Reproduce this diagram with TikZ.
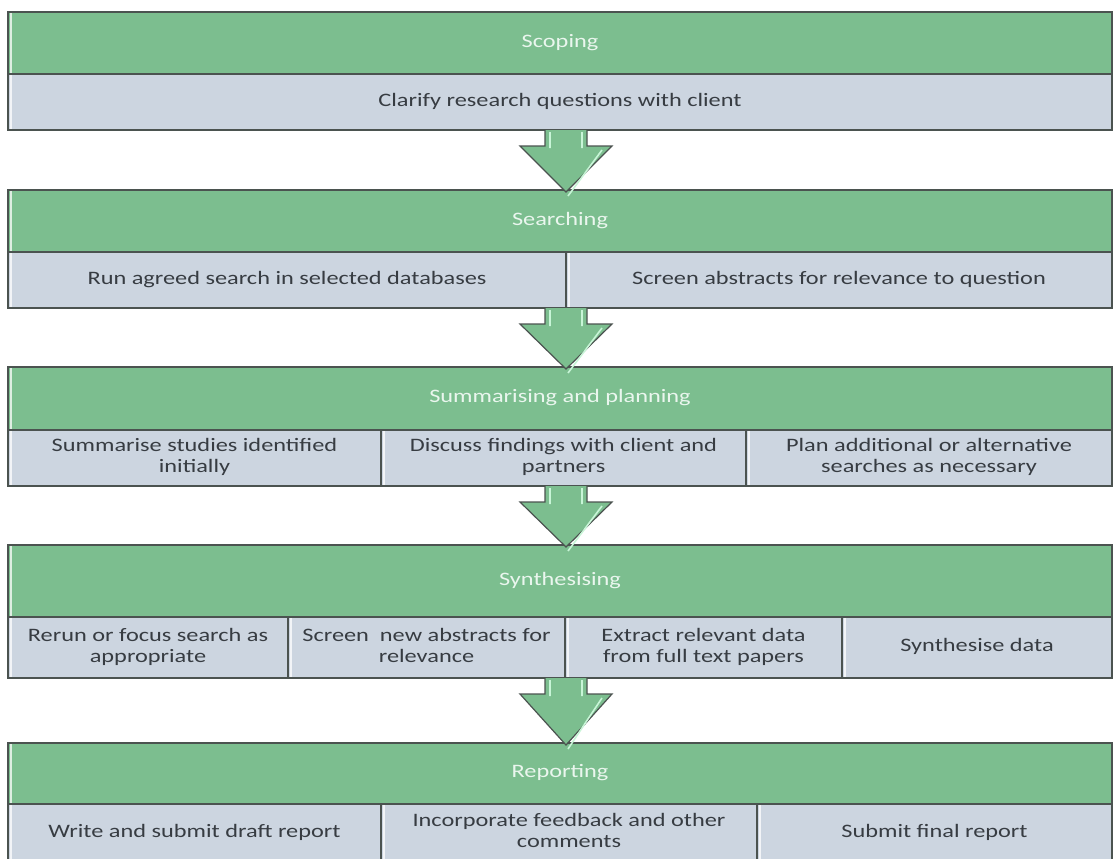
\documentclass[tikz,border=0pt]{standalone}
\usepackage{fontspec}
\setmainfont{Carlito}[FakeStretch=1.28]
\usetikzlibrary{calc}

\definecolor{headgreen}{RGB}{124,190,143}
\definecolor{rowgrey}{RGB}{204,213,224}
\definecolor{frame}{RGB}{75,83,80}
\definecolor{headtext}{RGB}{234,246,238}
\definecolor{bodytext}{RGB}{55,60,66}
\definecolor{glint}{RGB}{200,245,215}

\tikzset{
  x=1pt, y=-1pt,
  base/.style={draw=frame, line width=1.4pt, inner sep=0pt, outer sep=0pt,
    align=center, anchor=north west,
    path picture={\fill[white, opacity=.75]
      ([xshift=1.5pt]path picture bounding box.north west) rectangle
      ([xshift=4pt]path picture bounding box.south west);}},
  head/.style={base, fill=headgreen, text=headtext,
    font=\fontsize{19}{21}\selectfont},
  cell/.style={base, fill=rowgrey, text=bodytext,
    font=\fontsize{19}{21}\selectfont},
  blockarrow/.style={fill=headgreen, draw=frame, line width=1.2pt, line join=miter},
  arrowglint/.style={draw=glint, line width=1.6pt}
}

% a box from (x1,y1) to (x2,y2): style, name, x1, y1, x2, y2, text
\newcommand\panel[7]{%
  \pgfmathsetmacro\pw{#5-#3}\pgfmathsetmacro\ph{#6-#4}%
  \node[#1, minimum width=\pw pt, minimum height=\ph pt] (#2) at (#3,#4)
    {\raisebox{-2pt}{\begin{tabular}{@{}c@{}}#7\end{tabular}}};}

% block arrow from the bottom of one stage down into the next one
\newcommand\stagearrow[2]{%
  \draw[blockarrow] let \p0=(axis), \p1=(#1.south), \p2=(#2.north) in
    (\x0-21pt,\y1) -- (\x0-21pt,\y1-16pt) -- (\x0-46pt,\y1-16pt)
    -- (\x0,\y2-2pt) -- (\x0+46pt,\y1-16pt) -- (\x0+21pt,\y1-16pt)
    -- (\x0+21pt,\y1);
  \path[arrowglint] let \p0=(axis), \p1=(#1.south), \p2=(#2.north) in
    (\x0-16pt,\y1-2pt) -- (\x0-16pt,\y1-18pt)
    (\x0+16pt,\y1-2pt) -- (\x0+16pt,\y1-18pt)
    (\x0+36pt,\y1-20pt) -- (\x0+2pt,\y2-6pt);
}

\begin{document}
\begin{tikzpicture}
\useasboundingbox (0,0) rectangle (1116,859);
\clip (0,0) rectangle (1116,859);
\coordinate (axis) at (566,0);

% Scoping
\panel{head}{scoping}{8}{12}{1112}{74}{Scoping}
\panel{cell}{scope1}{8}{74}{1112}{130}{Clarify research questions with client}

% Searching
\panel{head}{searching}{8}{190}{1112}{252}{Searching}
\panel{cell}{search1}{8}{252}{566}{308}{Run agreed search in selected databases}
\panel{cell}{search2}{566}{252}{1112}{308}{Screen abstracts for relevance to question}

% Summarising and planning
\panel{head}{summarising}{8}{367}{1112}{430}{Summarising and planning}
\panel{cell}{summ1}{8}{430}{381}{486}{Summarise studies identified\\initially}
\panel{cell}{summ2}{381}{430}{746}{486}{Discuss findings with client and\\partners}
\panel{cell}{summ3}{746}{430}{1112}{486}{Plan additional or alternative\\searches as necessary}

% Synthesising
\panel{head}{synthesising}{8}{545}{1112}{617}{Synthesising}
\panel{cell}{syn1}{8}{617}{288}{678}{Rerun or focus search as\\appropriate}
\panel{cell}{syn2}{288}{617}{565}{678}{Screen~~new abstracts for\\relevance}
\panel{cell}{syn3}{565}{617}{842}{678}{Extract relevant data\\from full text papers}
\panel{cell}{syn4}{842}{617}{1112}{678}{Synthesise data}

% Reporting
\panel{head}{reporting}{8}{743}{1112}{804}{Reporting}
\panel{cell}{rep1}{8}{804}{381}{862}{Write and submit draft report}
\panel{cell}{rep2}{381}{804}{757}{862}{Incorporate feedback and other\\comments}
\panel{cell}{rep3}{757}{804}{1112}{862}{Submit final report}

% Flow between the stages
\stagearrow{scope1}{searching}
\stagearrow{search1}{summarising}
\stagearrow{summ2}{synthesising}
\stagearrow{syn2}{reporting}
\end{tikzpicture}
\end{document}
